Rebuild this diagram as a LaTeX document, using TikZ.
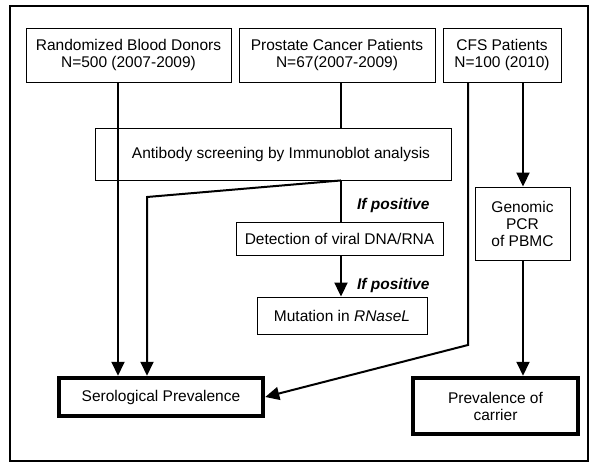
\documentclass[tikz,border=0pt]{standalone}
\usepackage{fontspec}
\setmainfont{Liberation Sans}
\usetikzlibrary{arrows.meta}

\tikzset{
  box/.style={draw, line width=0.9pt, align=center, inner sep=0pt,
    font=\fontsize{15.5}{17}\selectfont},
  bigbox/.style={box, line width=4.5pt},
  conn/.style={line width=2pt},
  arr/.style={conn, -{Triangle[width=13pt,length=14pt]}},
  note/.style={font=\fontsize{15.5}{17}\selectfont\bfseries\itshape},
}

\begin{document}
\begin{tikzpicture}[x=1pt, y=-1pt]
  \useasboundingbox (0,0) rectangle (600,465);
  \draw[line width=2pt] (10,6) rectangle (588,461);

  \node[box, minimum width=205pt, minimum height=54pt] (donors) at (128.5,55) {Randomized Blood Donors\\N=500 (2007-2009)};
  \node[box, minimum width=196pt, minimum height=54pt] (prostate) at (337,55) {Prostate Cancer Patients\\N=67(2007-2009)};
  \node[box, minimum width=118pt, minimum height=54pt] (cfs) at (502,55) {CFS Patients\\N=100 (2010)};
  \node[box, minimum width=356pt, minimum height=52pt] (screen) at (273,154) {\hspace{16pt}Antibody screening by Immunoblot analysis};
  \node[box, minimum width=207pt, minimum height=33pt] (detect) at (339.5,238.5) {Detection of viral DNA/RNA};
  \node[box, minimum width=170pt, minimum height=37pt] (mutation) at (342,315.5) {Mutation in \textit{RNaseL}};
  \node[box, minimum width=95pt, minimum height=73pt] (pcr) at (522.5,223.5) {Genomic\\PCR\\of PBMC};
  \node[bigbox, minimum width=204pt, minimum height=38pt] (sero) at (161,397) {Serological Prevalence};
  \node[bigbox, minimum width=165pt, minimum height=56pt] (carrier) at (495.5,406) {Prevalence of\\carrier};

  \node[note, anchor=east] (pos1) at (433,205) {If positive};
  \node[note, anchor=east] (pos2) at (433,285) {If positive};

  \coordinate (colA) at (118,0);
  \coordinate (colB) at (341,0);
  \coordinate (colC) at (468,0);
  \coordinate (colD) at (523,0);
  \coordinate (bend) at (147,197);
  \coordinate (knee) at (468,345);

  \draw[arr] (donors.south -| colA) -- (sero.north -| colA);
  \draw[conn] (prostate.south -| colB) -- (screen.north -| colB);
  \draw[conn] (screen.south -| colB) -- (detect.north -| colB);
  \draw[arr] (screen.south -| colB) -- (bend) -- (sero.north -| bend);
  \draw[arr] (detect.south -| colB) -- (mutation.north -| colB);
  \draw[arr] (cfs.south -| colC) -- (knee) -- (sero.east);
  \draw[arr] (cfs.south -| colD) -- (pcr.north -| colD);
  \draw[arr] (pcr.south -| colD) -- (carrier.north -| colD);
\end{tikzpicture}
\end{document}
